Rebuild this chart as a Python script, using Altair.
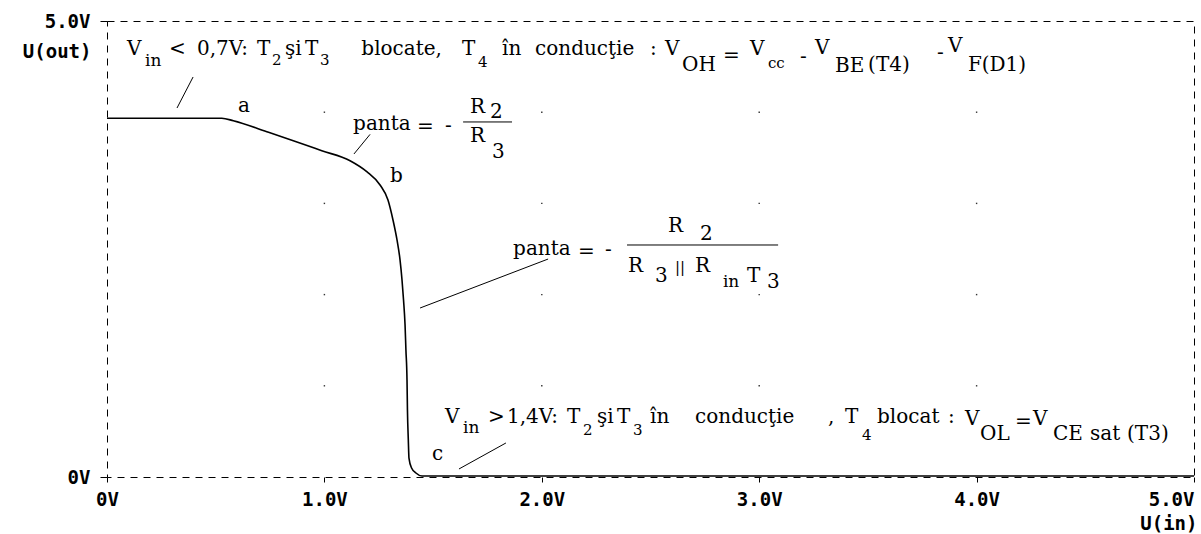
import json

import altair as alt
import pandas as pd

# Transfer characteristic of the TTL inverter: V(out) versus V(in)
v_in = [0.0, 0.528, 0.581, 0.735, 0.857, 0.988, 1.118, 1.195, 1.256, 1.2925,
        1.3155, 1.334, 1.348, 1.357, 1.364, 1.371, 1.375, 1.380, 1.382, 1.386,
        1.389, 1.401, 1.421, 1.449, 5.0]
v_out = [3.933, 3.933, 3.907, 3.786, 3.688, 3.578, 3.468, 3.348, 3.202, 3.037,
         2.818, 2.599, 2.379, 2.160, 1.941, 1.667, 1.393, 1.064, 0.735, 0.406,
         0.208, 0.099, 0.044, 0.011, 0.011]

x_ticks = [0, 1, 2, 3, 4, 5]
x_tick_labels = ["0V", "1.0V", "2.0V", "3.0V", "4.0V", "5.0V"]
y_ticks = [0, 5]
y_tick_labels = ["0V", "", "", "", "", "5.0V"]
grid_levels = [1, 2, 3, 4]

# Annotation text, anchored at (left end, baseline) in volts
main_text = [
    # high output level
    ("V", 0.092, 4.627), ("<", 0.285, 4.627), ("0,7V:", 0.414, 4.627),
    ("T", 0.690, 4.627), ("şi", 0.819, 4.627), ("T", 0.911, 4.627),
    ("blocate,", 1.170, 4.627), ("T", 1.633, 4.627),
    ("în", 1.817, 4.627), ("conducţie", 1.969, 4.627), (":", 2.498, 4.627),
    ("V", 2.567, 4.627), ("OH", 2.645, 4.452),
    ("=", 2.833, 4.550), ("V", 2.958, 4.627), ("-", 3.188, 4.539),
    ("V", 3.257, 4.638), ("BE", 3.349, 4.441), ("(T4)", 3.501, 4.452),
    ("-", 3.818, 4.583), ("V", 3.868, 4.660), ("F(D1)", 3.960, 4.452),
    # slope of segment a-b
    ("panta", 1.132, 3.805), ("=", 1.426, 3.772), ("-", 1.555, 3.783),
    ("R", 1.670, 3.991), ("2", 1.762, 3.936), ("R", 1.670, 3.673), ("3", 1.771, 3.496),
    # slope of segment b-c
    ("panta", 1.868, 2.434), ("=", 2.167, 2.401), ("-", 2.291, 2.423),
    ("R", 2.580, 2.686), ("2", 2.728, 2.599),
    ("R", 2.397, 2.248), ("3", 2.521, 2.138), ("R", 2.705, 2.248),
    ("T", 2.944, 2.138), ("3", 3.036, 2.072),
    # low output level
    ("V", 1.555, 0.592), (">", 1.753, 0.592), ("1,4V:", 1.840, 0.592),
    ("T", 2.116, 0.592), ("şi", 2.254, 0.592), ("T", 2.346, 0.592),
    ("în", 2.498, 0.592), ("conducţie", 2.705, 0.592), (",", 3.317, 0.592),
    ("T", 3.395, 0.592), ("blocat", 3.542, 0.592), (":", 3.868, 0.592),
    ("V", 3.947, 0.570), ("OL", 4.016, 0.406),
    ("=", 4.177, 0.537), ("V", 4.259, 0.570),
    ("CE", 4.351, 0.406), ("sat", 4.522, 0.406), ("(T3)", 4.692, 0.406),
    # points on the curve
    ("a", 0.603, 4.002), ("b", 1.302, 3.235), ("c", 1.495, 0.186),
]
in_text = [("in", 0.175, 4.507), ("in", 2.833, 2.083), ("in", 1.638, 0.482)]
small_text = [
    ("2", 0.759, 4.518), ("3", 0.980, 4.518), ("4", 1.707, 4.496), ("cc", 3.040, 4.485),
    ("||", 2.613, 2.248),
    ("2", 2.190, 0.461), ("3", 2.420, 0.461), ("4", 3.473, 0.406),
]
# Leader lines (x, y, x2, y2) and fraction bars (x, x2, y)
leaders = [(0.396, 4.386, 0.322, 4.046), (1.210, 3.757, 1.136, 3.542),
           (2.029, 2.390, 1.440, 1.853), (1.835, 0.373, 1.619, 0.088)]
fraction_bars = [(1.638, 1.863, 3.893), (2.392, 3.087, 2.544)]

curve = pd.DataFrame({"i": range(len(v_in)), "x": v_in, "y": v_out})
grid = pd.DataFrame([{"x": gx, "y": gy} for gx in grid_levels for gy in grid_levels])
main_df = pd.DataFrame(main_text, columns=["t", "x", "y"])
in_df = pd.DataFrame(in_text, columns=["t", "x", "y"])
small_df = pd.DataFrame(small_text, columns=["t", "x", "y"])
lead_df = pd.DataFrame(leaders, columns=["x", "y", "x2", "y2"])
bar_df = pd.DataFrame(fraction_bars, columns=["x", "x2", "y"])

AXIS_FONT = "DejaVu Sans Mono"
SERIF = "DejaVu Serif"

x_axis = alt.Axis(
    values=x_ticks,
    labelExpr=f"{json.dumps(x_tick_labels)}[round(datum.value)]",
    labelAlign={"condition": {"test": "datum.value >= 5", "value": "right"}, "value": "center"},
    labelFlush=False,
    labelBound=False,
    labelFont=AXIS_FONT, labelFontWeight="bold", labelFontSize=19, labelColor="black",
    labelPadding=8,
    tickSize=5, tickColor="black", tickWidth=1,
    domain=False, grid=False,
    title="U(in)", titleFont=AXIS_FONT, titleFontWeight="bold", titleFontSize=19,
    titleColor="black", titleX=1090, titleY=52, titleAlign="right",
    titleBaseline="alphabetic", titleAngle=0,
)
y_axis = alt.Axis(
    values=y_ticks,
    labelExpr=f"{json.dumps(y_tick_labels)}[round(datum.value)]",
    labelFont=AXIS_FONT, labelFontWeight="bold", labelFontSize=19, labelColor="black",
    labelPadding=10, labelFlush=False,
    tickSize=7, tickColor="black", tickWidth=1,
    domain=False, grid=False,
    title="U(out)", titleFont=AXIS_FONT, titleFontWeight="bold", titleFontSize=19,
    titleColor="black", titleAngle=0, titleX=-16, titleY=36, titleAlign="right",
    titleBaseline="alphabetic",
)

X = alt.X("x:Q", scale=alt.Scale(domain=[0, 5], nice=False, zero=False), axis=x_axis)
Y = alt.Y("y:Q", scale=alt.Scale(domain=[0, 5], nice=False, zero=False), axis=y_axis)

line = alt.Chart(curve).mark_line(
    color="black", strokeWidth=1.6, interpolate="monotone"
).encode(x=X, y=Y, order=alt.Order("i:Q"))
dots = alt.Chart(grid).mark_square(size=2, color="black", opacity=0.8).encode(x=X, y=Y)
lead = alt.Chart(lead_df).mark_rule(color="black", strokeWidth=1).encode(
    x=X, y=Y, x2="x2:Q", y2="y2:Q"
)
bars = alt.Chart(bar_df).mark_rule(color="black", strokeWidth=1).encode(
    x=X, x2="x2:Q", y=Y
)
main_lbl = alt.Chart(main_df).mark_text(
    align="left", baseline="alphabetic", font=SERIF, fontSize=20, color="black"
).encode(x=X, y=Y, text="t:N")
in_lbl = alt.Chart(in_df).mark_text(
    align="left", baseline="alphabetic", font=SERIF, fontSize=17, color="black"
).encode(x=X, y=Y, text="t:N")
small_lbl = alt.Chart(small_df).mark_text(
    align="left", baseline="alphabetic", font=SERIF, fontSize=15, color="black"
).encode(x=X, y=Y, text="t:N")

chart = (
    alt.layer(line, dots, lead, bars, main_lbl, in_lbl, small_lbl)
    .properties(
        width=1087,
        height=456,
        padding={"left": 107, "top": 21, "right": 7, "bottom": 57},
        autosize=alt.AutoSizeParams(type="none"),
        background="white",
    )
    .configure_view(stroke="black", strokeDash=[7, 6], strokeWidth=1)
)

chart.save("out.html", embed_options={"renderer": "svg", "actions": False})
